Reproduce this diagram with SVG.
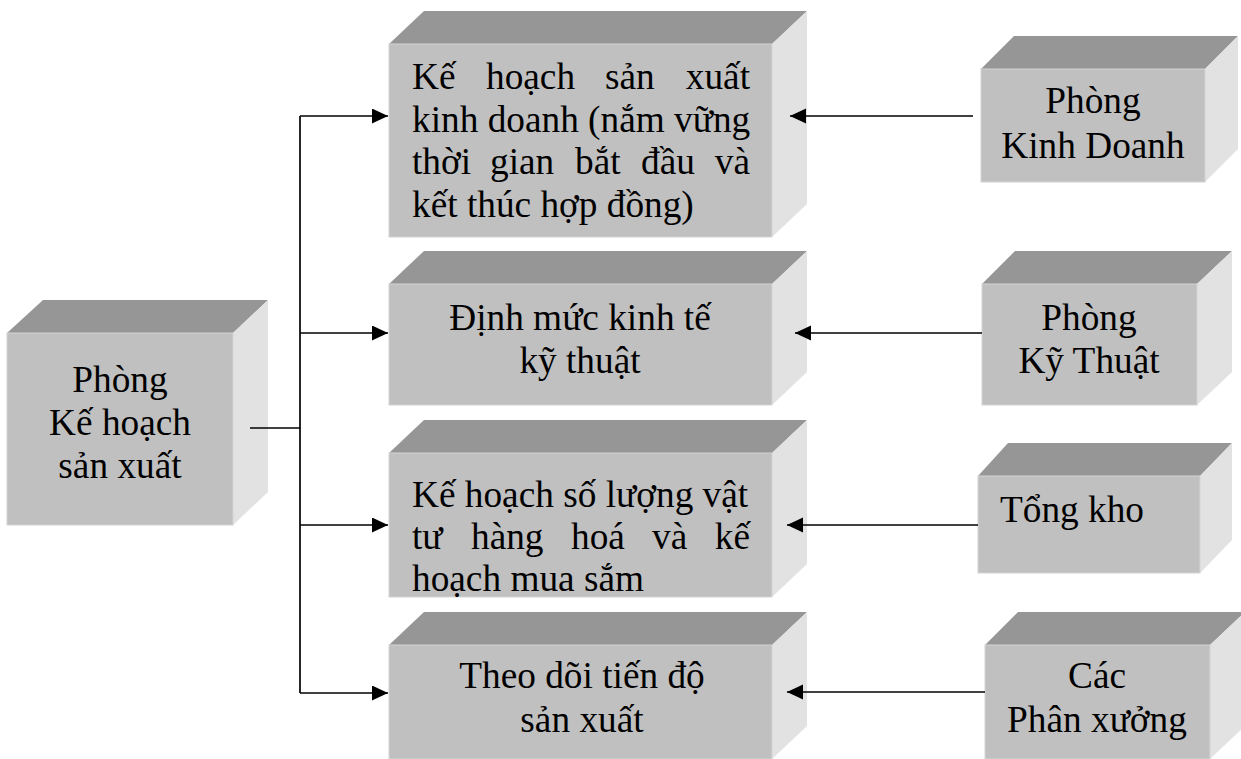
<svg xmlns="http://www.w3.org/2000/svg" width="1241" height="759" viewBox="0 0 1241 759">
<style>
.front{fill:#c0c0c0;stroke:#d4d4d4;stroke-width:1}
.top{fill:#969696}
.side{fill:#e2e2e2}
.t{font-family:"Liberation Serif","Times New Roman",serif;font-size:37.3px;fill:#000}
.c{text-anchor:middle}
.ln{stroke:#000;stroke-width:1.7;fill:none}
</style>
<defs>
<marker id="ah" markerUnits="userSpaceOnUse" markerWidth="18" markerHeight="16" refX="16" refY="7.5" orient="auto">
<path d="M0,0 L16,7.5 L0,15 Z" fill="#000"/>
</marker>
</defs>
<rect width="1241" height="759" fill="#fff"/>

<g id="node-phong-ke-hoach">
<polygon class="top" points="7,333 43,300 268,300 233,333"/>
<polygon class="side" points="233,333 268,300 268,492 233,525"/>
<rect class="front" x="7" y="333" width="226" height="192"/>
<text class="t c" x="120" y="392">Phòng</text>
<text class="t c" x="120" y="435">Kế hoạch</text>
<text class="t c" x="120" y="478">sản xuất</text>
</g>

<g id="node-ke-hoach-sxkd">
<polygon class="top" points="389,44 424,11 807,11 772,44"/>
<polygon class="side" points="772,44 807,11 807,204 772,237"/>
<rect class="front" x="389" y="44" width="383" height="193"/>
<text class="t" y="89"><tspan x="412">Kế</tspan><tspan x="486">hoạch</tspan><tspan x="605">sản</tspan><tspan x="750" text-anchor="end">xuất</tspan></text>
<text class="t" x="412" y="131.5">kinh doanh (nắm vững</text>
<text class="t" y="174"><tspan x="412">thời</tspan><tspan x="490">gian</tspan><tspan x="575">bắt</tspan><tspan x="641">đầu</tspan><tspan x="750" text-anchor="end">và</tspan></text>
<text class="t" x="412" y="216.5">kết thúc hợp đồng)</text>
</g>

<g id="node-dinh-muc">
<polygon class="top" points="389,284 424,251 807,251 772,284"/>
<polygon class="side" points="772,284 807,251 807,372 772,405"/>
<rect class="front" x="389" y="284" width="383" height="121"/>
<text class="t c" x="580" y="330">Định mức kinh tế</text>
<text class="t c" x="580" y="373">kỹ thuật</text>
</g>

<g id="node-ke-hoach-vat-tu">
<polygon class="top" points="389,453 424,420 807,420 772,453"/>
<polygon class="side" points="772,453 807,420 807,564 772,597"/>
<rect class="front" x="389" y="453" width="383" height="144"/>
<text class="t" x="412" y="507">Kế hoạch số lượng vật</text>
<text class="t" y="549"><tspan x="412">tư</tspan><tspan x="471">hàng</tspan><tspan x="571">hoá</tspan><tspan x="652">và</tspan><tspan x="750" text-anchor="end">kế</tspan></text>
<text class="t" x="412" y="591">hoạch mua sắm</text>
</g>

<g id="node-theo-doi">
<polygon class="top" points="389,645 424,612 807,612 772,645"/>
<polygon class="side" points="772,645 807,612 807,726 772,759"/>
<rect class="front" x="389" y="645" width="383" height="114"/>
<text class="t c" x="582" y="688">Theo dõi tiến độ</text>
<text class="t c" x="582" y="732">sản xuất</text>
</g>

<g id="node-kinh-doanh">
<polygon class="top" points="981,69 1014,36 1238,36 1205,69"/>
<polygon class="side" points="1205,69 1238,36 1238,149 1205,182"/>
<rect class="front" x="981" y="69" width="224" height="113"/>
<text class="t c" x="1093" y="113">Phòng</text>
<text class="t c" x="1093" y="158">Kinh Doanh</text>
</g>

<g id="node-ky-thuat">
<polygon class="top" points="982,284 1015,251 1232,251 1197,284"/>
<polygon class="side" points="1197,284 1232,251 1232,372 1197,405"/>
<rect class="front" x="982" y="284" width="215" height="121"/>
<text class="t c" x="1089" y="330">Phòng</text>
<text class="t c" x="1089" y="373">Kỹ Thuật</text>
</g>

<g id="node-tong-kho">
<polygon class="top" points="978,476 1008,443 1232,443 1200,476"/>
<polygon class="side" points="1200,476 1232,443 1232,540 1200,573"/>
<rect class="front" x="978" y="476" width="222" height="97"/>
<text class="t" x="1000" y="522">Tổng kho</text>
</g>

<g id="node-phan-xuong">
<polygon class="top" points="985,645 1018,612 1245,612 1210,645"/>
<polygon class="side" points="1210,645 1245,612 1245,726 1210,759"/>
<rect class="front" x="985" y="645" width="225" height="114"/>
<text class="t c" x="1097" y="688">Các</text>
<text class="t c" x="1097" y="732">Phân xưởng</text>
</g>

<g id="connectors">
<line class="ln" x1="250" y1="428" x2="300" y2="428"/>
<line class="ln" x1="300" y1="116" x2="300" y2="693"/>
<line class="ln" x1="300" y1="116" x2="388" y2="116" marker-end="url(#ah)"/>
<line class="ln" x1="300" y1="333" x2="388" y2="333" marker-end="url(#ah)"/>
<line class="ln" x1="300" y1="525" x2="388" y2="525" marker-end="url(#ah)"/>
<line class="ln" x1="300" y1="693" x2="388" y2="693" marker-end="url(#ah)"/>
<line class="ln" x1="973" y1="116" x2="790" y2="116" marker-end="url(#ah)"/>
<line class="ln" x1="982" y1="333" x2="795" y2="333" marker-end="url(#ah)"/>
<line class="ln" x1="978" y1="525" x2="787" y2="525" marker-end="url(#ah)"/>
<line class="ln" x1="985" y1="692" x2="787" y2="692" marker-end="url(#ah)"/>
</g>
</svg>
